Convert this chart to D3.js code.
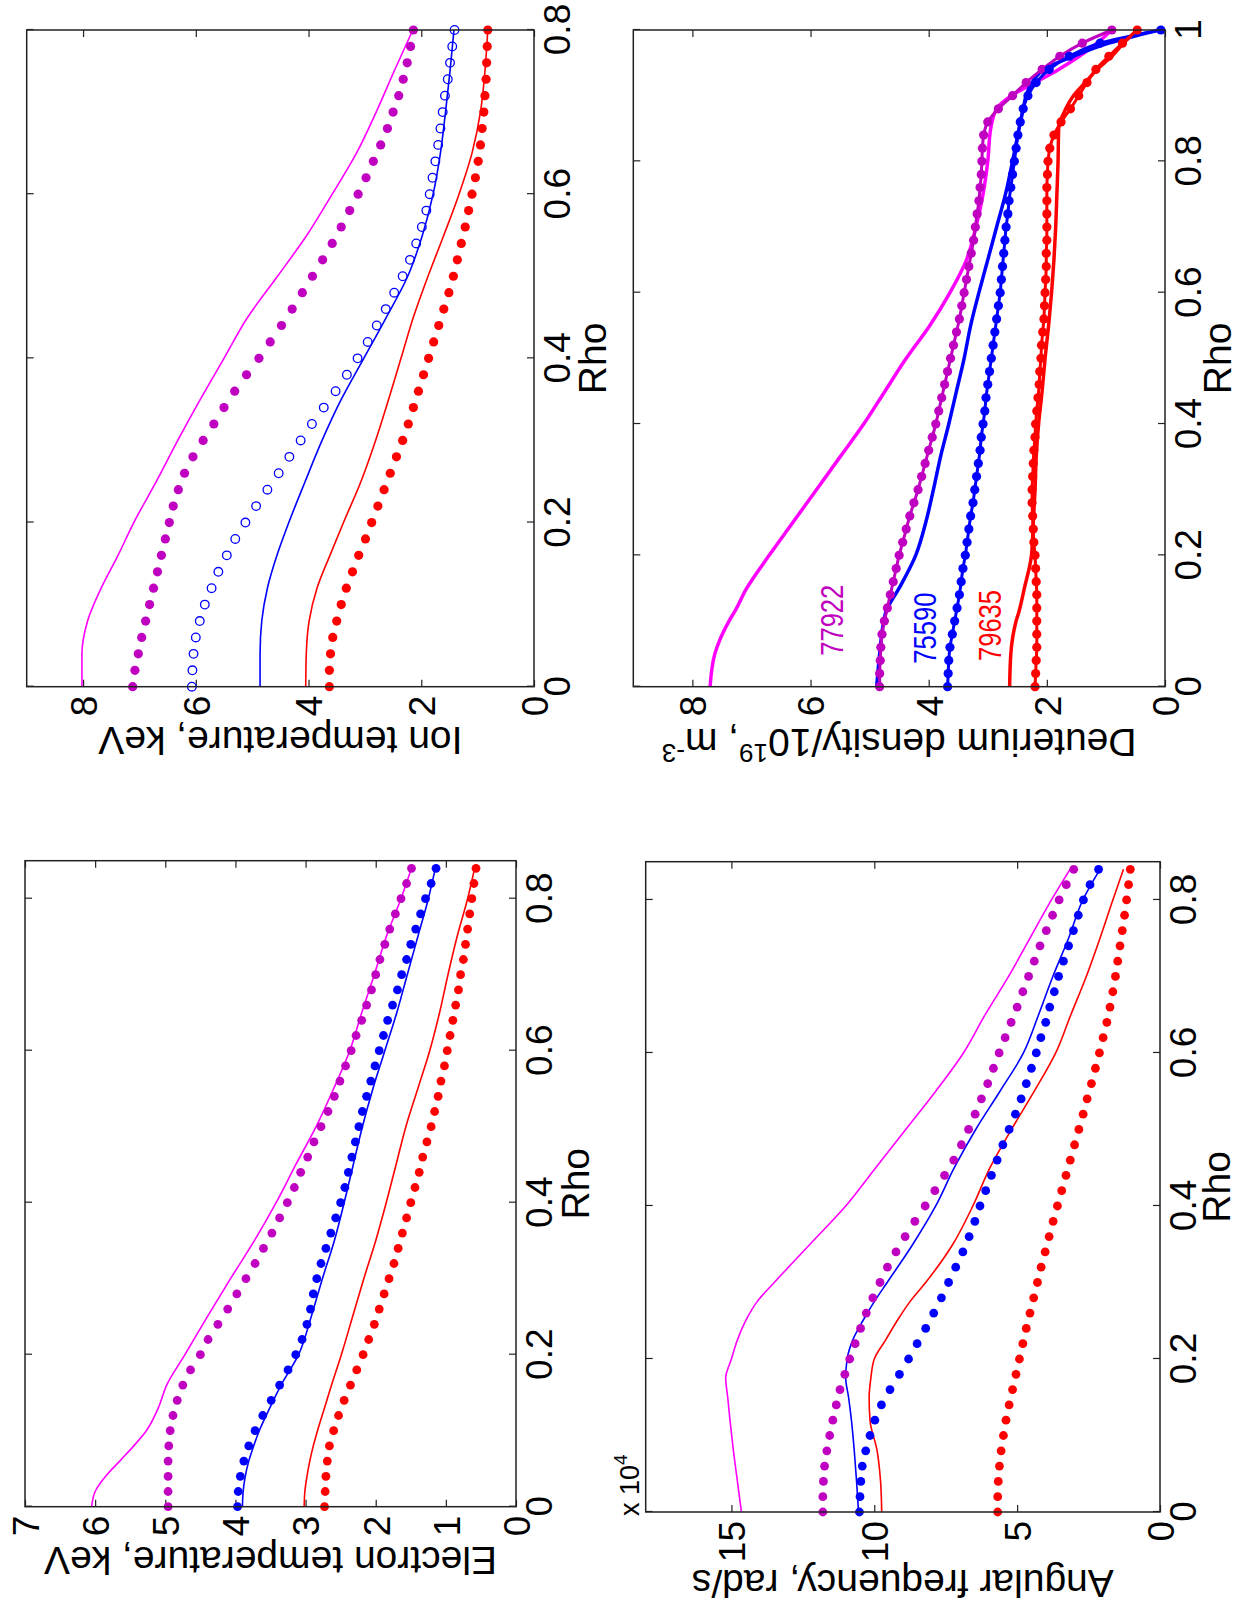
<!DOCTYPE html>
<html>
<head>
<meta charset="utf-8">
<script src="https://cdn.jsdelivr.net/npm/d3@7"></script>
<style>
  html, body { margin: 0; padding: 0; background: #fff; }
  svg { display: block; }
</style>
</head>
<body>
<script>
// rho grid used by every marker series (step 0.02)
var rhoGrid = [0,0.02,0.04,0.06,0.08,0.1,0.12,0.14,0.16,0.18,0.2,0.22,0.24,0.26,0.28,0.3,0.32,0.34,0.36,0.38,
  0.4,0.42,0.44,0.46,0.48,0.5,0.52,0.54,0.56,0.58,0.6,0.62,0.64,0.66,0.68,0.7,0.72,0.74,0.76,0.78,
  0.8,0.82,0.84,0.86,0.88,0.9,0.92,0.94,0.96,0.98,1];

// ---- Electron temperature, keV
var elRhoLine = [0,0.02,0.04,0.06,0.08,0.1,0.13,0.16,0.2,0.25,0.3,0.35,0.4,0.45,0.5,0.55,0.6,0.65,0.7,0.75,0.8,0.84];
var elMagLine = [6.05,6.0,5.85,5.65,5.45,5.27,5.1,4.98,4.72,4.4,4.07,3.73,3.42,3.14,2.85,2.6,2.37,2.2,2.02,1.85,1.64,1.49];
var elBlueLine = [3.9,3.89,3.86,3.81,3.74,3.66,3.51,3.35,3.1,2.92,2.76,2.59,2.45,2.32,2.19,2.04,1.87,1.7,1.55,1.4,1.25,1.15];
var elRedLine = [3.02,3.01,2.98,2.94,2.89,2.83,2.73,2.63,2.49,2.33,2.17,2.0,1.85,1.71,1.57,1.4,1.23,1.09,0.97,0.84,0.69,0.59];
var elMagDots = [4.96,4.96,4.96,4.96,4.95,4.93,4.89,4.83,4.75,4.64,4.5,4.39,4.25,4.11,3.98,3.85,3.72,3.6,3.48,3.37,
  3.26,3.16,3.07,2.97,2.88,2.78,2.68,2.59,2.51,2.43,2.35,2.28,2.2,2.13,2.06,2.0,1.94,1.87,1.8,1.72,1.64,1.56,1.49];
var elBlueDots = [3.97,3.96,3.93,3.88,3.81,3.72,3.61,3.49,3.37,3.25,3.14,3.05,2.98,2.93,2.89,2.84,2.78,2.71,2.64,2.57,
  2.5,2.44,2.39,2.34,2.29,2.24,2.19,2.13,2.07,2.01,1.95,1.89,1.83,1.76,1.69,1.63,1.56,1.5,1.43,1.36,1.29,1.21,1.14];
var elRedDots = [2.73,2.72,2.71,2.69,2.66,2.6,2.53,2.45,2.36,2.27,2.18,2.1,2.02,1.95,1.88,1.81,1.74,1.68,1.62,1.56,
  1.5,1.44,1.38,1.33,1.27,1.21,1.16,1.11,1.07,1.02,0.98,0.94,0.9,0.86,0.82,0.79,0.75,0.72,0.69,0.66,0.63,0.6,0.57];

// ---- Ion temperature, keV
var ionRhoLine = [0,0.04,0.08,0.12,0.16,0.2,0.25,0.3,0.35,0.4,0.45,0.5,0.55,0.6,0.65,0.7,0.75,0.8];
var ionMagLine = [8.02,8.02,7.92,7.68,7.38,7.1,6.7,6.32,5.92,5.5,5.08,4.55,4.03,3.58,3.15,2.8,2.48,2.15];
var ionBlueLine = [4.86,4.86,4.83,4.73,4.56,4.35,4.06,3.76,3.42,3.02,2.62,2.24,1.98,1.79,1.66,1.57,1.49,1.42];
var ionRedLine = [4.05,4.04,3.99,3.85,3.62,3.38,3.07,2.81,2.58,2.36,2.14,1.88,1.6,1.33,1.1,0.95,0.87,0.82];
var ionMagDots = [7.12,7.08,7.02,6.96,6.89,6.82,6.75,6.68,6.61,6.54,6.47,6.4,6.31,6.2,6.05,5.87,5.68,5.5,5.31,5.1,
  4.88,4.68,4.48,4.29,4.11,3.93,3.75,3.58,3.42,3.27,3.12,2.98,2.85,2.72,2.6,2.5,2.4,2.32,2.25,2.19,2.14];
var ionBlueCircles = [6.07,6.06,6.04,6.0,5.93,5.84,5.72,5.6,5.45,5.3,5.12,4.93,4.73,4.53,4.34,4.14,3.94,3.73,3.52,3.32,
  3.13,2.95,2.79,2.63,2.48,2.33,2.2,2.09,1.99,1.91,1.85,1.8,1.75,1.7,1.66,1.62,1.58,1.53,1.49,1.45,1.41];
var ionRedDots = [3.63,3.63,3.61,3.57,3.5,3.42,3.33,3.22,3.11,2.99,2.88,2.77,2.66,2.55,2.44,2.33,2.23,2.14,2.05,1.96,
  1.87,1.78,1.69,1.6,1.51,1.43,1.36,1.29,1.22,1.16,1.1,1.04,0.99,0.95,0.92,0.89,0.87,0.85,0.84,0.83,0.82];

// ---- Angular frequency, rad/s (x 10^4)
var angRhoLine = [0,0.04,0.08,0.12,0.15,0.175,0.2,0.225,0.25,0.275,0.3,0.35,0.4,0.45,0.5,0.55,0.6,0.65,0.7,0.75,0.8,0.84];
var angMagLine = [14.65,14.79,14.93,15.05,15.13,15.2,15.0,14.79,14.5,14.1,13.5,12.25,11.0,9.95,8.9,7.85,6.88,6.12,5.3,4.55,3.8,3.15];
var angBlueLine = [10.55,10.62,10.7,10.8,10.9,11.0,10.95,10.75,10.4,10.0,9.55,8.65,7.85,7.2,6.45,5.6,4.78,4.25,3.75,3.2,2.7,2.1];
var angRedLine = [9.74,9.78,9.9,10.15,10.18,10.12,10.0,9.6,9.2,8.75,8.2,7.25,6.55,5.95,5.2,4.4,3.65,3.12,2.58,2.1,1.65,1.28];
var angMagDots = [11.8,11.8,11.78,11.74,11.66,11.56,11.45,11.33,11.2,11.03,10.86,10.67,10.48,10.28,10.05,9.8,9.54,9.24,8.92,8.58,
  8.22,7.88,7.54,7.22,6.95,6.7,6.47,6.25,6.03,5.83,5.63,5.42,5.21,5.0,4.8,4.6,4.4,4.2,3.98,3.76,3.53,3.28,3.02];
var angBlueDots = [10.52,10.5,10.47,10.42,10.3,10.15,9.98,9.75,9.45,9.12,8.8,8.5,8.2,7.92,7.65,7.4,7.15,6.9,6.68,6.48,
  6.3,6.1,5.9,5.7,5.5,5.28,5.06,4.86,4.68,4.5,4.33,4.17,4.0,3.86,3.7,3.55,3.38,3.2,3.03,2.86,2.68,2.45,2.15];
var angRedDots = [5.68,5.68,5.66,5.62,5.56,5.48,5.39,5.28,5.16,5.04,4.92,4.8,4.68,4.55,4.42,4.29,4.16,4.02,3.88,3.74,
  3.59,3.44,3.29,3.14,2.99,2.84,2.69,2.55,2.4,2.26,2.12,1.99,1.86,1.75,1.65,1.56,1.48,1.4,1.32,1.24,1.17,1.1,1.04];

// ---- Deuterium density / 10^19 m^-3
var dRhoLine = [0,0.05,0.1,0.115,0.15,0.2,0.25,0.3,0.35,0.4,0.45,0.5,0.55,0.6,0.65,0.7,0.75,0.8,0.85,0.88,0.9,0.92,0.94,0.96,0.98,1];
var dMagLine = [7.7,7.62,7.38,7.28,7.08,6.7,6.3,5.9,5.5,5.1,4.74,4.38,3.98,3.64,3.36,3.2,3.08,3.0,2.95,2.85,2.6,2.2,1.8,1.45,1.15,0.9];
var dBlueLine = [4.88,4.83,4.76,4.72,4.5,4.22,4.05,3.92,3.8,3.66,3.53,3.4,3.29,3.15,3.0,2.85,2.7,2.58,2.47,2.4,2.35,2.25,2.05,1.55,0.95,0.1];
var dRedLine = [2.63,2.61,2.52,2.47,2.38,2.26,2.23,2.2,2.18,2.14,2.08,2.03,1.97,1.92,1.88,1.85,1.83,1.81,1.8,1.68,1.55,1.35,1.15,0.9,0.7,0.47];
var dMagDots = [4.83,4.83,4.82,4.81,4.79,4.75,4.7,4.65,4.6,4.55,4.5,4.44,4.38,4.32,4.25,4.18,4.12,4.06,4.0,3.94,
  3.88,3.83,3.78,3.73,3.68,3.63,3.58,3.53,3.48,3.44,3.4,3.36,3.32,3.28,3.24,3.21,3.18,3.15,3.13,3.11,
  3.1,3.09,3.07,3.0,2.82,2.58,2.35,2.08,1.78,1.4,0.9];
var dBlueDots = [3.68,3.67,3.66,3.64,3.6,3.56,3.52,3.48,3.45,3.42,3.38,3.35,3.32,3.29,3.25,3.22,3.19,3.16,3.13,3.11,
  3.08,3.05,3.03,3.0,2.97,2.94,2.91,2.88,2.85,2.82,2.79,2.77,2.75,2.73,2.71,2.69,2.66,2.64,2.61,2.58,
  2.55,2.52,2.49,2.45,2.4,2.32,2.18,1.96,1.62,1.1,0.07];
var dRedDots = [2.2,2.19,2.18,2.17,2.17,2.17,2.17,2.17,2.18,2.19,2.2,2.22,2.23,2.24,2.25,2.25,2.24,2.23,2.22,2.2,
  2.19,2.17,2.15,2.13,2.12,2.1,2.09,2.07,2.05,2.04,2.03,2.02,2.01,2.01,2.0,2.0,2.0,2.0,2.0,1.99,
  1.98,1.95,1.88,1.76,1.6,1.46,1.32,1.17,0.95,0.72,0.47];
// shot numbers written inside the density panel: [text, rho, value]
var shotLabels = [["77922", 0.047, 5.45], ["75590", 0.035, 3.87], ["79635", 0.039, 2.77]];

// tick values
var elTicksY = [0,1,2,3,4,5,6,7];
var ionTicksY = [0,2,4,6,8];
var angTicksY = [0,5,10,15];
var dTicksY = [0,2,4,6,8];
var rhoTicks = [0,0.2,0.4,0.6,0.8];
var rhoTicksFull = [0,0.2,0.4,0.6,0.8,1];

var MAG = "#ff00ff", MAGDOT = "#c000c0", BLUE = "#0000ff", RED = "#ff0000";
var FONT = "'Liberation Sans', Arial, Helvetica, sans-serif";

window.onload = function(){
  var svg = d3.select("body").append("svg")
    .attr("width", 1239)
    .attr("height", 1613);
  svg.append("rect").attr("width", 1239).attr("height", 1613).attr("fill", "#fff");

  // the whole figure is turned a quarter turn counter-clockwise
  var fig = svg.append("g").attr("transform", "translate(0,1613) rotate(-90)");

  function pairs(rho, vals){
    return vals.map(function(v, i){ return [rho[i], v]; });
  }

  function panel(p){
    var x = d3.scaleLinear().domain([0, p.xMax]).range([p.x0, p.x1]);
    var y = d3.scaleLinear().domain([0, p.yMax]).range([p.y1, p.y0]);
    var g = fig.append("g");
    var fmt = d3.format("~g");

    //axes, ticks pointing inside on all four sides
    var ax = g.append("g").attr("transform", "translate(0," + p.y1 + ")")
      .call(d3.axisBottom(x).tickValues(p.xTicks).tickSize(-7).tickPadding(10).tickFormat(fmt));
    var ay = g.append("g").attr("transform", "translate(" + p.x0 + ",0)")
      .call(d3.axisLeft(y).tickValues(p.yTicks).tickSize(-7).tickPadding(9).tickFormat(fmt));
    var at = g.append("g").attr("transform", "translate(0," + p.y0 + ")")
      .call(d3.axisTop(x).tickValues(p.xTicks).tickSize(-7).tickFormat(""));
    var ar = g.append("g").attr("transform", "translate(" + p.x1 + ",0)")
      .call(d3.axisRight(y).tickValues(p.yTicks).tickSize(-7).tickFormat(""));
    [ax, ay, at, ar].forEach(function(a){
      a.select(".domain").remove();
      a.attr("font-size", 37).attr("font-family", FONT);
      a.selectAll("line").attr("stroke", "#222").attr("stroke-width", 1.2);
      a.selectAll("text").attr("fill", "#000");
    });
    ay.selectAll("text").attr("dy", "0.36em");

    //data
    var line = d3.line()
      .x(function(d){ return x(d[0]); })
      .y(function(d){ return y(d[1]); })
      .curve(d3.curveMonotoneX);

    p.series.forEach(function(s){
      var pts = pairs(s.rho, s.vals);
      if (s.kind === "line" || s.kind === "dotline") {
        g.append("path")
          .datum(pts)
          .attr("d", line)
          .attr("fill", "none")
          .attr("stroke", s.color)
          .attr("stroke-width", s.width)
          .attr("stroke-linejoin", "round");
      }
      if (s.kind === "dots" || s.kind === "dotline") {
        g.selectAll(null)
          .data(pts)
          .enter()
          .append("circle")
          .attr("cx", function(d){ return x(d[0]); })
          .attr("cy", function(d){ return y(d[1]); })
          .attr("r", s.r)
          .attr("fill", s.color);
      }
      if (s.kind === "circles") {
        g.selectAll(null)
          .data(pts)
          .enter()
          .append("circle")
          .attr("cx", function(d){ return x(d[0]); })
          .attr("cy", function(d){ return y(d[1]); })
          .attr("r", s.r)
          .attr("fill", "none")
          .attr("stroke", s.color)
          .attr("stroke-width", 1.3);
      }
    });

    //box
    g.append("rect")
      .attr("x", p.x0).attr("y", p.y0)
      .attr("width", p.x1 - p.x0).attr("height", p.y1 - p.y0)
      .attr("fill", "none").attr("stroke", "#222").attr("stroke-width", 1.5);

    //axis titles
    g.append("text")
      .attr("x", (p.x0 + p.x1) / 2)
      .attr("y", p.y1 + p.rhoOff)
      .attr("text-anchor", "middle")
      .attr("font-family", FONT).attr("font-size", 39)
      .text("Rho");

    var yl = g.append("text")
      .attr("transform", "translate(" + (p.x0 - p.ylOff) + "," + ((p.y0 + p.y1) / 2) + ") rotate(-90)")
      .attr("text-anchor", "middle")
      .attr("font-family", FONT).attr("font-size", 39);
    p.ylabel.forEach(function(part){
      var t = yl.append("tspan").text(part[0]);
      if (part[1]) t.attr("font-size", 26).attr("dy", -15);
      else if (part[2]) t.attr("dy", 15);
    });

    return {x: x, y: y, g: g};
  }

  // top-left: electron temperature
  panel({
    x0: 106.3, x1: 752.3, y0: 25, y1: 516, xMax: 0.85, yMax: 7,
    xTicks: rhoTicks, yTicks: elTicksY, ylOff: 40, rhoOff: 73,
    ylabel: [["Electron temperature, keV"]],
    series: [
      {kind: "line", rho: elRhoLine, vals: elMagLine, color: MAG, width: 1.6},
      {kind: "line", rho: elRhoLine, vals: elBlueLine, color: BLUE, width: 1.6},
      {kind: "line", rho: elRhoLine, vals: elRedLine, color: RED, width: 1.6},
      {kind: "dots", rho: rhoGrid, vals: elMagDots, color: MAGDOT, r: 4.4},
      {kind: "dots", rho: rhoGrid, vals: elBlueDots, color: BLUE, r: 4.4},
      {kind: "dots", rho: rhoGrid, vals: elRedDots, color: RED, r: 4.4}
    ]
  });

  // top-right: ion temperature
  panel({
    x0: 926.3, x1: 1583, y0: 26.7, y1: 534, xMax: 0.8, yMax: 9,
    xTicks: rhoTicks, yTicks: ionTicksY, ylOff: 40, rhoOff: 72,
    ylabel: [["Ion temperature, keV"]],
    series: [
      {kind: "line", rho: ionRhoLine, vals: ionMagLine, color: MAG, width: 1.6},
      {kind: "line", rho: ionRhoLine, vals: ionBlueLine, color: BLUE, width: 1.6},
      {kind: "line", rho: ionRhoLine, vals: ionRedLine, color: RED, width: 1.6},
      {kind: "dots", rho: rhoGrid, vals: ionMagDots, color: MAGDOT, r: 4.6},
      {kind: "circles", rho: rhoGrid, vals: ionBlueCircles, color: BLUE, r: 4.3},
      {kind: "dots", rho: rhoGrid, vals: ionRedDots, color: RED, r: 4.6}
    ]
  });

  // bottom-left: angular frequency
  var ang = panel({
    x0: 101, x1: 751.3, y0: 645.7, y1: 1160, xMax: 0.85, yMax: 18,
    xTicks: rhoTicks, yTicks: angTicksY, ylOff: 58, rhoOff: 70,
    ylabel: [["Angular frequency, rad/s"]],
    series: [
      {kind: "line", rho: angRhoLine, vals: angMagLine, color: MAG, width: 1.6},
      {kind: "line", rho: angRhoLine, vals: angBlueLine, color: BLUE, width: 1.6},
      {kind: "line", rho: angRhoLine, vals: angRedLine, color: RED, width: 1.6},
      {kind: "dots", rho: rhoGrid, vals: angMagDots, color: MAGDOT, r: 4.4},
      {kind: "dots", rho: rhoGrid, vals: angBlueDots, color: BLUE, r: 4.4},
      {kind: "dots", rho: rhoGrid, vals: angRedDots, color: RED, r: 4.4}
    ]
  });
  var mult = ang.g.append("text")
    .attr("x", 97).attr("y", 639)
    .attr("font-family", FONT).attr("font-size", 27);
  mult.append("tspan").text("x 10");
  mult.append("tspan").attr("font-size", 19).attr("dy", -12).text("4");

  // bottom-right: deuterium density
  var dens = panel({
    x0: 926.3, x1: 1583, y0: 633.3, y1: 1165, xMax: 1, yMax: 9,
    xTicks: rhoTicksFull, yTicks: dTicksY, ylOff: 42, rhoOff: 66,
    ylabel: [["Deuterium density/10"], ["19", true], [", m", false, true], ["-3", true]],
    series: [
      {kind: "line", rho: dRhoLine, vals: dMagLine, color: MAG, width: 3.5},
      {kind: "line", rho: dRhoLine, vals: dBlueLine, color: BLUE, width: 3.5},
      {kind: "line", rho: dRhoLine, vals: dRedLine, color: RED, width: 3.5},
      {kind: "dotline", rho: rhoGrid, vals: dMagDots, color: MAGDOT, r: 4.6, width: 3},
      {kind: "dotline", rho: rhoGrid, vals: dBlueDots, color: BLUE, r: 4.6, width: 3},
      {kind: "dotline", rho: rhoGrid, vals: dRedDots, color: RED, r: 4.6, width: 3}
    ]
  });
  var shotColors = [MAGDOT, BLUE, RED];
  dens.g.selectAll(".shot")
    .data(shotLabels)
    .enter()
    .append("text")
    .attr("class", "shot")
    .attr("transform", function(d){
      return "translate(" + dens.x(d[1]) + "," + dens.y(d[2]) + ") scale(0.8,1)";
    })
    .attr("font-family", FONT).attr("font-size", 32)
    .attr("fill", function(d, i){ return shotColors[i]; })
    .text(function(d){ return d[0]; });
};
</script>
</body>
</html>
